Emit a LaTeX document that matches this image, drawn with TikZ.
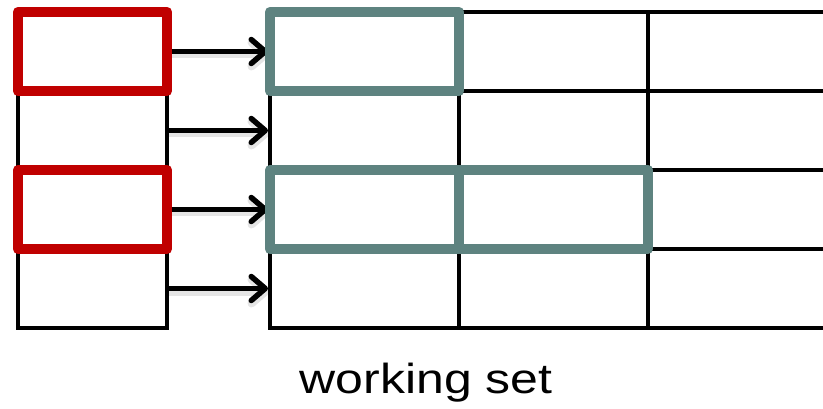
\documentclass[tikz,border=0pt]{standalone}
\usepackage{fontspec}
\setmainfont{Liberation Sans}
\newfontfamily\lblfont[FakeStretch=1.19]{Liberation Sans}
\usetikzlibrary{arrows.meta}
\definecolor{redbox}{RGB}{192,0,0}
\definecolor{graybox}{RGB}{94,131,128}
\begin{document}
\begin{tikzpicture}[x=1pt,y=-1pt,
  lcell/.style={draw=black, line width=3.5pt, minimum width=149pt, minimum height=79pt, inner sep=0pt, outer sep=0pt},
  rcell/.style={draw=black, line width=3.5pt, minimum width=189pt, minimum height=79pt, inner sep=0pt, outer sep=0pt},
  hilite/.style={line width=10.5pt, line join=round},
  arr/.style={line width=5.5pt, shorten >=2pt, -{Straight Barb[length=14pt,width=24pt,line cap=round,line join=round]}},
  arrshadow/.style={arr, draw=black, opacity=0.1, line width=8pt, transform canvas={shift={(1.5pt,-3pt)}}}]
\useasboundingbox (0,0) rectangle (823,409);
\begin{scope}
\clip (0,0) rectangle (823,409);
% left column
\foreach \i/\y in {1/51.5,2/130.5,3/209.5,4/288.5}{
  \node[lcell] (L\i) at (92.5,\y) {};
}
% right grid
\foreach \i/\y in {1/51.5,2/130.5,3/209.5,4/288.5}{
  \foreach \j/\x in {1/364.5,2/553.5,3/742.5}{
    \node[rcell] (R\i\j) at (\x,\y) {};
  }
}
\end{scope}
% arrows
\foreach \i in {1,2,3,4}{
  \draw[arrshadow] (L\i.east) -- (R\i1.west);
  \draw[arr] (L\i.east) -- (R\i1.west);
}
% red highlights
\draw[hilite, draw=redbox] (L1.north west) rectangle (L1.south east);
\draw[hilite, draw=redbox] (L3.north west) rectangle (L3.south east);
% gray highlights
\draw[hilite, draw=graybox] (R11.north west) rectangle (R11.south east);
\draw[hilite, draw=graybox] (R31.north west) rectangle (R32.south east);
\draw[hilite, draw=graybox, line cap=butt] (R31.north east) -- (R31.south east);
% label
\node[font=\lblfont\fontsize{42}{50}\selectfont, anchor=base, inner sep=0pt] (lbl) at (426,393) {working set};
\end{tikzpicture}
\end{document}
